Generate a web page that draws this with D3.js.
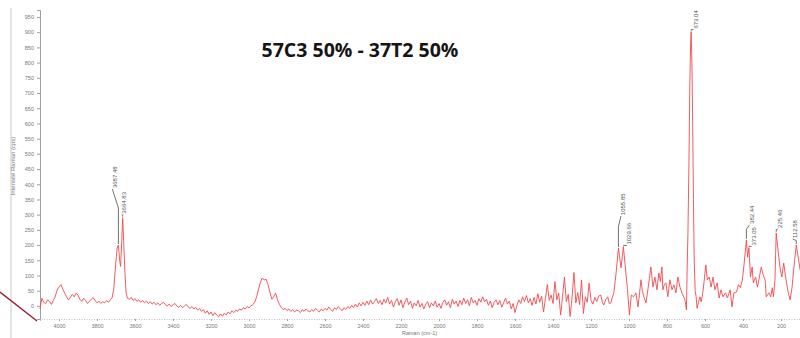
<!DOCTYPE html>
<html><head><meta charset="utf-8">
<script src="https://cdn.jsdelivr.net/npm/d3@7"></script>
<style>html,body{margin:0;padding:0;background:#fff;overflow:hidden}</style>
</head><body>
<svg id="chart" width="800" height="338"></svg>
<script>
// ---------- data ----------
const chartTitle = "57C3 50% - 37T2 50%";
const yTitle = "Intensité Raman (cps)";
const xTitle = "Raman (cm-1)";
const xTicks = [4000,3800,3600,3400,3200,3000,2800,2600,2400,2200,2000,1800,1600,1400,1200,1000,800,600,400,200];
const yTicks = [0,50,100,150,200,250,300,350,400,450,500,550,600,650,700,750,800,850,900,950];

// O-H stretching region [Raman shift, intensity]
const bandOH = [[4100,-10],[4090,25],[4080,12],[4070,8],[4060,20],[4050,15],[4040,5],[4030,18],[4020,30],[4010,52],
  [4000,62],[3990,70],[3980,55],[3970,42],[3960,30],[3950,20],[3940,28],[3930,38],[3920,30],[3910,42],
  [3900,35],[3890,22],[3880,15],[3870,25],[3860,18],[3850,8],[3840,15],[3830,22],[3820,28],[3810,18],
  [3800,10],[3790,16],[3780,8],[3770,14],[3760,10],[3750,18],[3740,12],[3730,20],[3720,28],[3712,55],
  [3704,120],[3694,190],[3687.48,200],[3681,150],[3676,130],[3670,210],[3664.83,290],[3659,200],[3653,110],[3647,45],[3640,25]];

// baseline region, sampled every 10 cm-1 from 3630 down to 1160
const baseStart = 3630, baseStep = 10;
const baseValues = [22,28,18,24,15,20,12,18,10,16,8,14,6,12,4,10,2,8,12,4,0,6,-2,4,8,0,-4,2,-6,0,5,-3,-8,-2,
  -10,-5,-14,-8,-18,-12,-24,-16,-28,-20,-32,-22,-30,-36,-26,-34,-24,-30,-20,-26,-16,-22,-14,-18,-10,-14,-6,-10,-2,-6,
  0,4,12,30,55,78,92,85,88,70,45,22,30,42,20,5,-5,-12,-8,-15,
  -10,-18,-12,-20,-14,-16,-22,-12,-18,-10,-16,-20,-12,-18,-8,-14,-20,-10,-16,-8,
  -14,-4,-12,-18,-6,-12,-2,-10,-16,-6,-12,-2,-8,2,-6,6,-4,10,0,12,
  2,16,4,20,6,14,24,8,18,4,22,10,28,6,18,-4,14,24,2,20,
  -6,12,26,4,16,-8,10,0,18,-4,8,-10,6,14,-6,10,0,16,-4,8,
  -8,12,20,2,14,-6,22,6,16,-2,18,4,26,8,20,0,28,10,18,2,
  24,12,30,14,22,2,16,-6,12,20,4,18,-4,10,26,6,16,-10,8,-22,
  2,20,8,30,14,34,10,24,2,28,6,40,12,32,-20,24,70,18,36,8,
  80,20,42,-30,30,95,14,38,-35,26,110,10,44,4,85,-25,30,12,75,18,
  6,28,14,32];

// fingerprint region [Raman shift, intensity]
const bandLow = [[1149,36],[1140,12],[1133,3],[1122,22],[1112,30],[1104,8],[1096,10],[1088,28],[1080,43],[1068,108],
  [1055.85,190],[1042,125],[1029.66,195],[1018,118],[1008,53],[998,-30],[988,36],[976,30],[964,43],[953,-3],
  [945,40],[937,86],[930,50],[922,30],[911,10],[901,53],[893,90],[885,128],[874,62],[864,95],
  [853,53],[843,108],[835,80],[827,128],[822,53],[814,70],[806,76],[796,30],[785,86],[774,53],
  [764,69],[753,43],[743,95],[732,62],[717,36],[709,26],[703,10],[698,-13],[694,128],[690,240],
  [685,457],[680,730],[676,860],[673.04,902],[669,800],[665,600],[661,350],[657,150],[652,50],[647,30],
  [642,-8],[634,13],[627,30],[620,13],[612,43],[604,86],[596,135],[588,86],[578,95],[568,62],
  [558,95],[548,53],[536,76],[526,26],[516,53],[506,30],[492,43],[482,26],[468,53],[458,-3],
  [448,43],[434,46],[424,70],[414,60],[404,85],[396,128],[382.44,217],[376,160],[369,192],[361,95],
  [352,128],[346,76],[334,95],[324,62],[314,95],[304,128],[294,102],[284,86],[278,30],[264,43],
  [254,30],[246,60],[240,30],[232,86],[225.46,240],[216,184],[206,128],[196,95],[186,141],[176,95],
  [162,43],[152,20],[142,62],[130,141],[120,200],[110,161],[100,120],[95,110]];

const peakLabels = [["3687.48",3687.48],["3664.83",3664.83],["1055.85",1055.85],["1029.66",1029.66],
  ["673.04",673.04],["382.44",382.44],["373.05",369],["225.46",225.46],["112.58",120]];

// ---------- drawing ----------
const spectrum = bandOH
  .concat(baseValues.map((v, i) => [baseStart - i * baseStep, v]))
  .concat(bandLow);

const svg = d3.select("#chart");
const x = d3.scaleLinear().domain([4100, 95]).range([40, 801]);
const y = d3.scaleLinear().domain([-43, 973]).range([319, 10]);
const axisColor = "#a0a0a0", textColor = "#777";
const smallFont = "Liberation Sans, Arial, sans-serif";

// outer frame line and connector
svg.append("line").attr("x1", 11).attr("x2", 11).attr("y1", 8).attr("y2", 338)
  .attr("stroke", "#c8c8c8").attr("stroke-width", 1);
svg.append("line").attr("x1", 0).attr("y1", 292).attr("x2", 37).attr("y2", 321)
  .attr("stroke", "#9b1b30").attr("stroke-width", 1.4);

// y axis
const yAxis = d3.axisLeft(y).tickValues(yTicks).tickSize(3).tickPadding(3).tickFormat(d3.format("d"));
const gy = svg.append("g").attr("transform", "translate(40,0)").call(yAxis);
gy.select(".domain").attr("stroke", axisColor);
gy.selectAll(".tick line").attr("stroke", axisColor);
gy.selectAll(".tick text").attr("fill", textColor).attr("font-size", 5.5).attr("font-family", smallFont);

// x axis
const xAxis = d3.axisBottom(x).tickValues(xTicks).tickSize(2).tickPadding(3).tickFormat(d3.format("d"));
const gx = svg.append("g").attr("transform", "translate(0,319)").call(xAxis);
gx.select(".domain").attr("stroke", "#b8c4c8").attr("stroke-dasharray", "1,1.5");
gx.selectAll(".tick line").attr("stroke", axisColor);
gx.selectAll(".tick text").attr("fill", textColor).attr("font-size", 5.5).attr("font-family", smallFont);

// axis titles
svg.append("text").attr("transform", "translate(15,166) rotate(-90)")
  .attr("text-anchor", "middle").attr("font-size", 6).attr("font-family", smallFont)
  .attr("fill", textColor).text(yTitle);
svg.append("text").attr("x", 402).attr("y", 335)
  .attr("font-size", 5.5).attr("font-family", smallFont)
  .attr("fill", textColor).text(xTitle);

// spectrum
const line = d3.line().x(d => x(d[0])).y(d => y(d[1]));
svg.append("path").datum(spectrum).attr("d", line)
  .attr("fill", "none").attr("stroke", "#f04a4e").attr("stroke-width", 0.9)
  .attr("stroke-linejoin", "round");

// peak labels with leader lines
const labelLift = [57, 4, 33, 2, 3, 16, 2, 5, 7];
const labelDx = [-3.5, 1.5, 5, 6, 5, 5.5, 5, 4, -1];
peakLabels.forEach((p, i) => {
  const pt = spectrum.find(d => d[0] === p[1]);
  const px = x(pt[0]), py = y(pt[1]);
  const yb = py - labelLift[i];
  const xt = px + labelDx[i];
  const lead = [[xt - 2.5, yb + 1], [px, yb + 0.35 * labelLift[i]], [px, py - 1]];
  svg.append("path").attr("d", d3.line()(lead))
    .attr("fill", "none").attr("stroke", "#333").attr("stroke-width", 0.7);
  svg.append("text").attr("transform", `translate(${xt + 2},${yb}) rotate(-90)`)
    .attr("font-size", 6).attr("font-family", smallFont).attr("fill", "#555")
    .text(p[0]);
});

// title
svg.append("text").attr("x", 360).attr("y", 57).attr("text-anchor", "middle")
  .attr("font-family", "Open Sans, sans-serif").attr("font-weight", 700)
  .attr("font-size", 19.5).attr("fill", "#151515").text(chartTitle);
</script>
</body></html>
